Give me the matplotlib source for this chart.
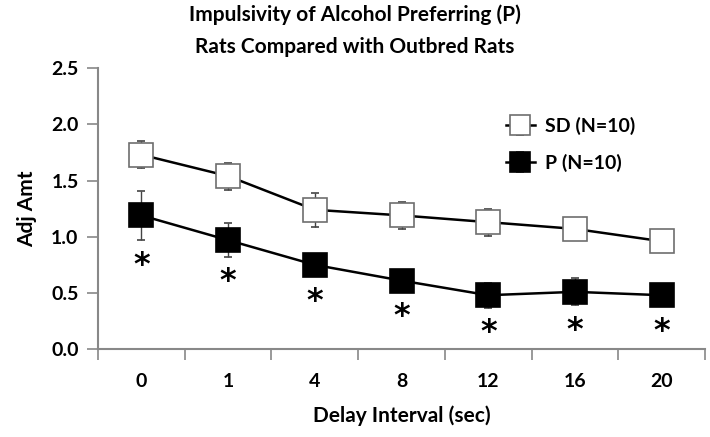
import numpy as np
import matplotlib
matplotlib.use('Agg')
import matplotlib.pyplot as plt

plt.rcParams['font.family'] = ['Lato', 'DejaVu Sans']
plt.rcParams['font.weight'] = 'bold'

# data
delays = ['0', '1', '4', '8', '12', '16', '20']
sd_mean = [1.73, 1.54, 1.24, 1.19, 1.13, 1.07, 0.96]
sd_err = [0.12, 0.12, 0.15, 0.12, 0.12, 0.04, 0.03]
p_mean = [1.19, 0.97, 0.75, 0.61, 0.48, 0.51, 0.48]
p_err = [0.22, 0.15, 0.05, 0.04, 0.11, 0.12, 0.03]
signif = [True, True, True, True, True, True, True]

x = np.arange(len(delays))

fig = plt.figure(figsize=(7.1, 4.37), dpi=100)
ax = fig.add_axes([0.138, 0.201, 0.855, 0.643])

ax.errorbar(x, sd_mean, yerr=sd_err, color='black', lw=1.8,
            marker='s', ms=17, mfc='white', mec='#6e6e6e', mew=1.2,
            ecolor='#444444', elinewidth=1.0, capsize=3, capthick=1.0,
            label='SD (N=10)', zorder=3)
ax.errorbar(x, p_mean, yerr=p_err, color='black', lw=1.8,
            marker='s', ms=17, mfc='black', mec='black', mew=1.2,
            ecolor='#444444', elinewidth=1.0, capsize=3, capthick=1.0,
            label='P (N=10)', zorder=3)

# significance asterisks under the P points
for i in range(len(delays)):
    if signif[i]:
        base = min(p_mean[i] - p_err[i], p_mean[i] - 0.1)
        ax.annotate('*', (x[i], base), xytext=(0, -18), textcoords='offset points',
                    ha='center', va='center', fontsize=23, fontweight='bold',
                    family='DejaVu Sans')

ax.set_xlim(-0.5, len(delays) - 0.5)
ax.set_ylim(0, 2.5)
ax.set_yticks(np.arange(0, 2.51, 0.5))
ax.set_yticklabels(['%.1f' % v for v in np.arange(0, 2.51, 0.5)])

# category labels centered, tick marks between categories
ax.set_xticks(np.arange(-0.5, len(delays)), minor=False)
ax.set_xticklabels([])
ax.set_xticks(x, minor=True)
ax.set_xticklabels(delays, minor=True)
ax.tick_params(axis='x', which='minor', length=0, pad=17, labelsize=14)
ax.tick_params(axis='x', which='major', length=8, width=1.2, color='#888888', direction='out')
ax.tick_params(axis='y', length=8, width=1.2, color='#888888', direction='out', labelsize=14, pad=6)

for s in ['top', 'right']:
    ax.spines[s].set_visible(False)
for s in ['left', 'bottom']:
    ax.spines[s].set_color('#888888')
    ax.spines[s].set_linewidth(1.5)

ax.set_xlabel('Delay Interval (sec)', fontsize=15, fontweight='bold', labelpad=11)
ax.set_ylabel('Adj Amt', fontsize=15, fontweight='bold', labelpad=10)
fig.suptitle('Impulsivity of Alcohol Preferring (P)\nRats Compared with Outbred Rats',
             x=0.5, y=0.99, fontsize=15, fontweight='bold', linespacing=1.75)

leg = ax.legend(loc='upper left', bbox_to_anchor=(0.643, 0.888), frameon=False,
                fontsize=14, labelspacing=0.95, handlelength=1.5, handletextpad=0.5,
                markerscale=0.85)

fig.savefig('out.png', dpi=100)
